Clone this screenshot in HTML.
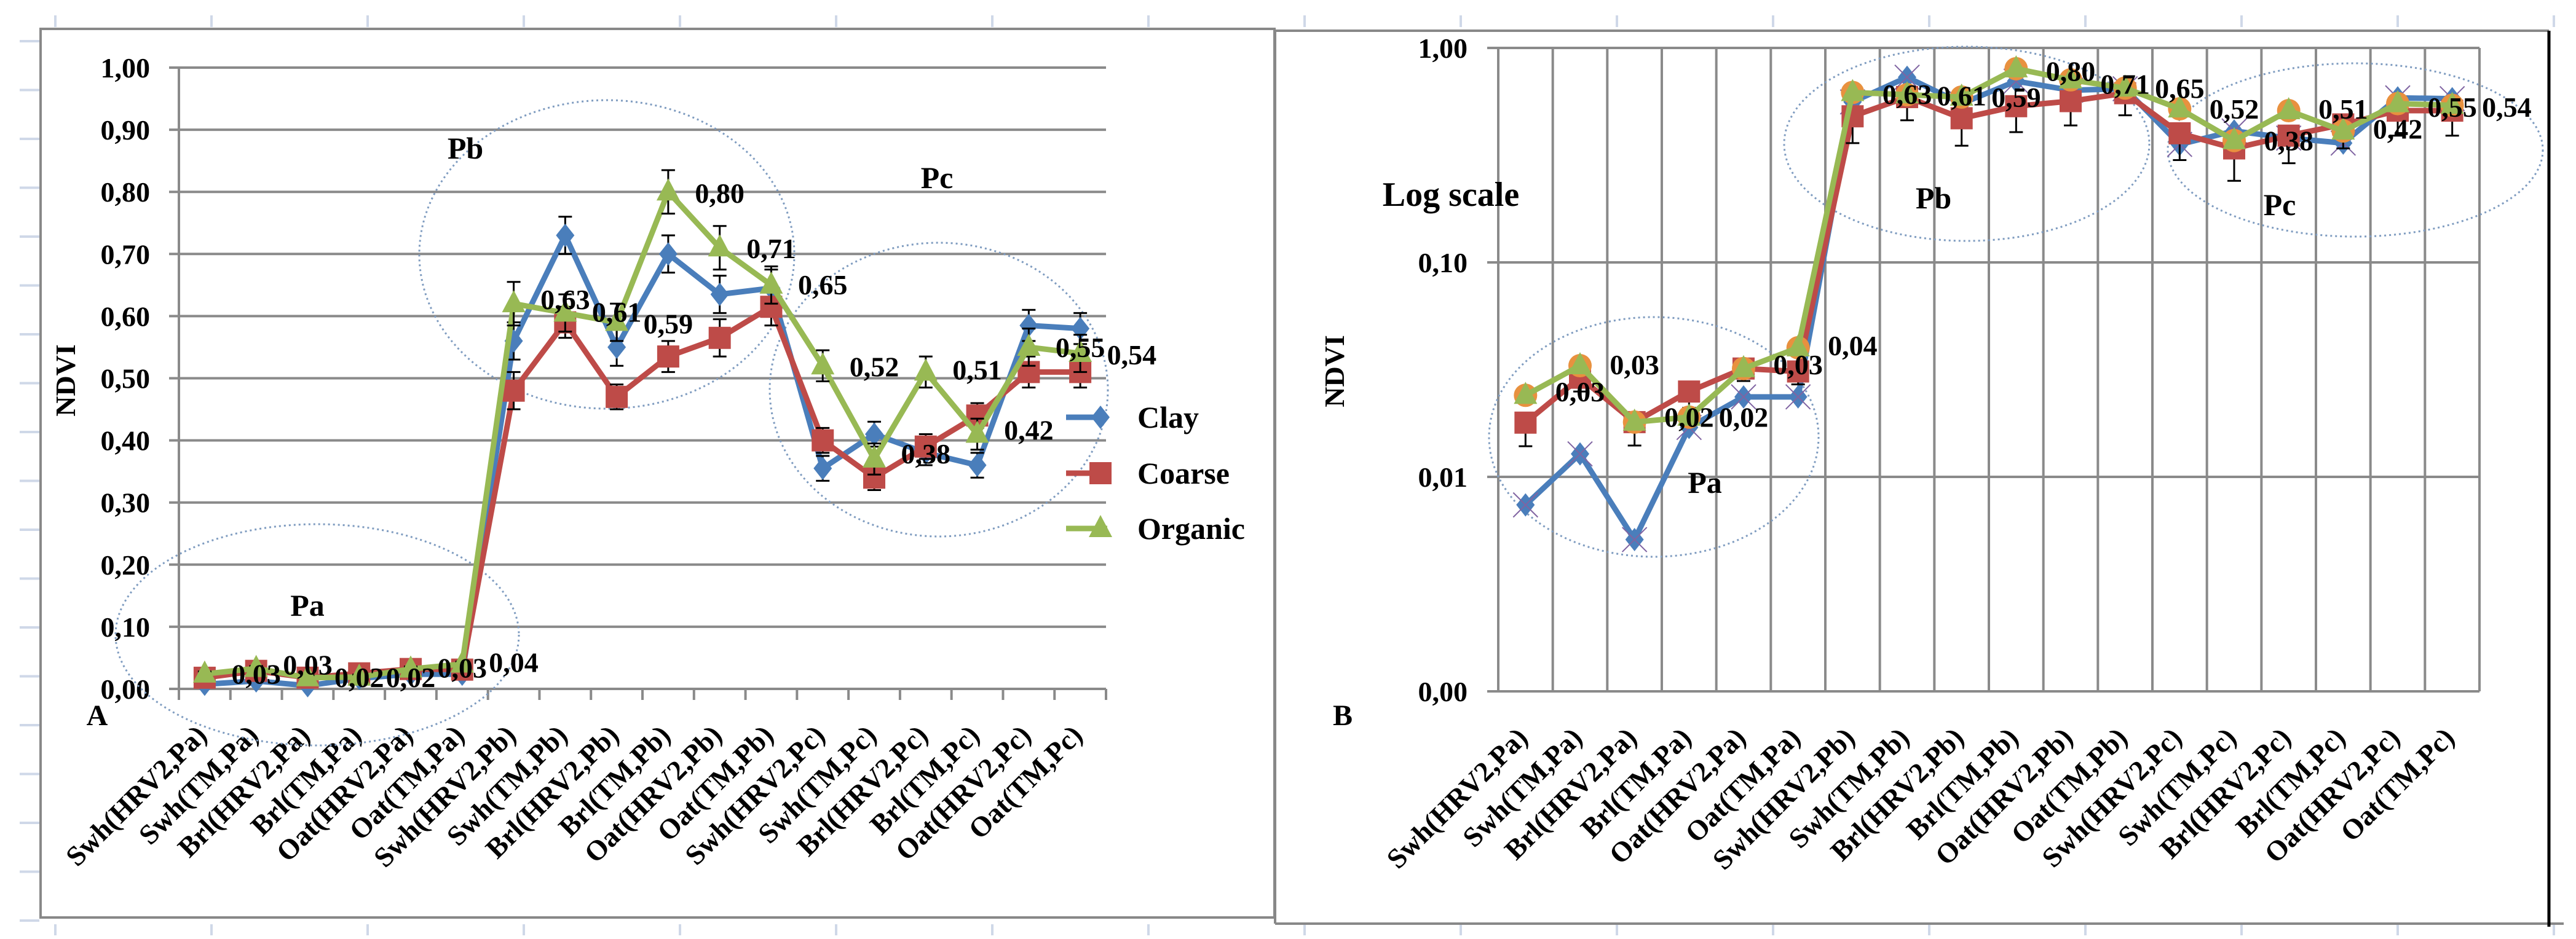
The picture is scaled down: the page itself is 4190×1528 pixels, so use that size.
<!DOCTYPE html>
<html><head><meta charset="utf-8"><style>
html,body{margin:0;padding:0;background:#fff;}
svg{display:block;}
text{font-family:"Liberation Serif",serif;font-weight:bold;}
</style></head><body>
<svg id="c" width="4190" height="1528" viewBox="0 0 4190 1528" xmlns="http://www.w3.org/2000/svg"></svg>
<script>
const categories=["Swh(HRV2,Pa)","Swh(TM,Pa)","Brl(HRV2,Pa)","Brl(TM,Pa)","Oat(HRV2,Pa)","Oat(TM,Pa)","Swh(HRV2,Pb)","Swh(TM,Pb)","Brl(HRV2,Pb)","Brl(TM,Pb)","Oat(HRV2,Pb)","Oat(TM,Pb)","Swh(HRV2,Pc)","Swh(TM,Pc)","Brl(HRV2,Pc)","Brl(TM,Pc)","Oat(HRV2,Pc)","Oat(TM,Pc)"];
const clay=[0.0074,0.0128,0.0051,0.017,0.0236,0.0236,0.56,0.73,0.55,0.70,0.635,0.645,0.355,0.41,0.38,0.36,0.585,0.58];
const coarse=[0.0179,0.029,0.018,0.025,0.032,0.031,0.48,0.59,0.47,0.535,0.565,0.615,0.40,0.34,0.39,0.44,0.51,0.51];
const organic=[0.024,0.033,0.018,0.019,0.032,0.040,0.62,0.605,0.59,0.80,0.71,0.65,0.52,0.37,0.51,0.41,0.55,0.54];
const errClay=[0.003,0.003,0.003,0.003,0.003,0.003,0.03,0.03,0.03,0.03,0.03,0.03,0.02,0.02,0.02,0.02,0.025,0.025];
const errCoarse=[0.004,0.004,0.004,0.004,0.004,0.004,0.03,0.025,0.02,0.025,0.03,0.03,0.02,0.02,0.02,0.02,0.025,0.025];
const errOrganic=[0.004,0.004,0.004,0.004,0.004,0.004,0.035,0.03,0.03,0.035,0.035,0.03,0.025,0.025,0.025,0.025,0.03,0.03];
const errCoarseLog=[0.004,0.004,0.004,0.004,0.004,0.004,0.12,0.13,0.12,0.13,0.13,0.13,0.1,0.1,0.1,0.1,0.12,0.12];
const labelTexts=["0,03","0,03","0,02","0,02","0,03","0,04","0,63","0,61","0,59","0,80","0,71","0,65","0,52","0,38","0,51","0,42","0,55","0,54"];
const labelValsLin=[0.024,0.039,0.019,0.019,0.034,0.043,0.627,0.607,0.588,0.798,0.709,0.651,0.519,0.379,0.514,0.417,0.55,0.538];
const labelValsLog=[0.025,0.0335,0.019,0.019,0.0335,0.041,0.61,0.60,0.59,0.78,0.68,0.65,0.52,0.37,0.52,0.42,0.53,0.53];
const linTicks=[0,0.1,0.2,0.3,0.4,0.5,0.6,0.7,0.8,0.9,1.0];
const linTickLabels=["0,00","0,10","0,20","0,30","0,40","0,50","0,60","0,70","0,80","0,90","1,00"];
const logTicks=[0.001,0.01,0.1,1];
const logTickLabels=["0,00","0,01","0,10","1,00"];

const NS="http://www.w3.org/2000/svg";
const svg=document.getElementById('c');
function mk(tag,attrs,parent){const e=document.createElementNS(NS,tag);for(const k in attrs)e.setAttribute(k,attrs[k]);(parent||svg).appendChild(e);return e;}
const C={clay:"#4a7ebb",coarse:"#be4b48",organic:"#98b954"};
const n=categories.length;
const L={x0:291,x1:1799,y0:1121,y1:110};
const R={x0:2437,x1:4033,y0:1125,y1:78};
const xL=i=>L.x0+(i+0.5)*(L.x1-L.x0)/n;
const yL=v=>L.y0-(v)*(L.y0-L.y1);
const xR=i=>R.x0+(i+0.5)*(R.x1-R.x0)/n;
const yR=v=>R.y1-Math.log10(v)*(R.y0-R.y1)/3;
const stepL=(L.x1-L.x0)/n, stepR=(R.x1-R.x0)/n;

for(let k=0;k<17;k++){const x=90+254*k;
 let t=mk('line',{x1:x,y1:25,x2:x,y2:44,stroke:"#cfd8e8","stroke-width":4});
 
 let b=mk('line',{x1:x,y1:1504,x2:x,y2:1522,stroke:"#cfd8e8","stroke-width":4});
 }
for(let k=0;k<19;k++){const y=67+79.5*k;
 let t=mk('line',{x1:32,y1:y,x2:64,y2:y,stroke:"#cfd8e8","stroke-width":4});
 }

let f1=mk('rect',{x:66,y:47,width:2007,height:1446,fill:"none",stroke:"#888","stroke-width":4});

let f2=mk('path',{d:"M2074 1503 V50 H4146 M2074 1503 H4170",fill:"none",stroke:"#888","stroke-width":4});

let f3=mk('line',{x1:4146,y1:50,x2:4146,y2:1508,stroke:"#000","stroke-width":5});


function text(x,y,s,size,name,extra){const t=mk('text',Object.assign({x:x,y:y,"font-size":size,"font-family":"Liberation Serif, serif","font-weight":"bold",fill:"#000"},extra||{}));t.textContent=s;
 return t;}

// ===== Panel A =====
linTicks.forEach((v,k)=>{const y=yL(v);
 let g=mk('line',{x1:275,y1:y,x2:L.x1,y2:y,stroke:"#8a8a8a","stroke-width":4});
 
 text(244,y+16,linTickLabels[k],46,'a-y-tick-label',{"text-anchor":"end"});});
let ya=mk('line',{x1:L.x0,y1:L.y1,x2:L.x0,y2:L.y0,stroke:"#8a8a8a","stroke-width":4});

for(let i=0;i<=n;i++){const x=L.x0+i*stepL;
 let t=mk('line',{x1:x,y1:L.y0,x2:x,y2:L.y0+18,stroke:"#8a8a8a","stroke-width":4});
 }
categories.forEach((c,i)=>{text(xL(i)+6,L.y0+78,c,46,'a-x-tick-label',{"text-anchor":"end",transform:`rotate(-45 ${xL(i)+6} ${L.y0+78})`});});
text(122,619,"NDVI",46,'a-y-axis-title',{"text-anchor":"middle",transform:"rotate(-90 122 619)"});
text(158,1180,"A",48,'panel-a-letter',{"text-anchor":"middle","font-family":"Liberation Sans, sans-serif","font-weight":"normal"});
[[516,1033,328,180],[987,414,305,251],[1527,634,275,239]].forEach(e=>{
 let el=mk('ellipse',{cx:e[0],cy:e[1],rx:e[2],ry:e[3],fill:"none",stroke:"#7f9cc0","stroke-width":3,"stroke-dasharray":"3 5"});
 });
text(500,1002,"Pa",50,'a-group-label-pa',{"text-anchor":"middle"});
text(757,258,"Pb",50,'a-group-label-pb',{"text-anchor":"middle"});
text(1524,306,"Pc",50,'a-group-label-pc',{"text-anchor":"middle"});

function marker(kind,x,y,col,name){let m;
 if(kind==='d')m=mk('path',{d:`M${x} ${y-19}L${x+15} ${y}L${x} ${y+19}L${x-15} ${y}Z`,fill:col});
 else if(kind==='s')m=mk('rect',{x:x-18,y:y-18,width:36,height:36,fill:col});
 else m=mk('path',{d:`M${x} ${y-22}L${x+19} ${y+14}L${x-19} ${y+14}Z`,fill:col});
 return m;}
function series(vals,errs,xf,yf,col,kind,name,both){
 let d=vals.map((v,i)=>(i?'L':'M')+xf(i)+' '+yf(v)).join(' ');
 let p=mk('path',{d:d,fill:"none",stroke:col,"stroke-width":9,"stroke-linejoin":"round"});
 
 vals.forEach((v,i)=>{const x=xf(i);
  if(errs){const lo=yf(Math.max(v-errs[i],0.0011)),hi=both?yf(v+errs[i]):yf(v);
   let e=mk('path',{d:`M${x} ${hi}V${lo}M${x-11} ${lo}H${x+11}`+(both?`M${x-11} ${hi}H${x+11}`:''),stroke:"#000","stroke-width":3,fill:"none"});
   }
  marker(kind,x,yf(v),col,name+'-marker');});}
series(clay,errClay,xL,yL,C.clay,'d','a-clay',true);
series(coarse,errCoarse,xL,yL,C.coarse,'s','a-coarse',true);
series(organic,errOrganic,xL,yL,C.organic,'t','a-organic',true);
labelTexts.forEach((s,i)=>text(xL(i)+stepL*1.0,yL(labelValsLin[i])+16,s,46,'a-data-label',{"text-anchor":"middle"}));
[["Clay",C.clay,'d',679],["Coarse",C.coarse,'s',770],["Organic",C.organic,'t',860]].forEach(l=>{
 let ln=mk('line',{x1:1734,y1:l[3],x2:1801,y2:l[3],stroke:l[1],"stroke-width":9});
 
 marker(l[2],1790,l[3],l[1],'legend-marker-'+l[0].toLowerCase());
 text(1850,l[3]+17,l[0],50,'legend-entry-'+l[0].toLowerCase(),{});});

// ===== Panel B =====
logTicks.forEach((v,k)=>{const y=yR(v);
 let g=mk('line',{x1:2419,y1:y,x2:R.x1,y2:y,stroke:"#8a8a8a","stroke-width":4});
 
 text(2387,y+16,logTickLabels[k],46,'b-y-tick-label',{"text-anchor":"end"});});
for(let i=0;i<=n;i++){const x=R.x0+i*stepR;
 let g=mk('line',{x1:x,y1:R.y1,x2:x,y2:R.y0,stroke:"#8a8a8a","stroke-width":4});
 }
categories.forEach((c,i)=>{text(xR(i)+6,R.y0+78,c,46,'b-x-tick-label',{"text-anchor":"end",transform:`rotate(-45 ${xR(i)+6} ${R.y0+78})`});});
text(2360,335,"Log scale",56,'b-scale-note',{"text-anchor":"middle"});
text(2186,604,"NDVI",46,'b-y-axis-title',{"text-anchor":"middle",transform:"rotate(-90 2186 604)"});
text(2184,1180,"B",48,'panel-b-letter',{"text-anchor":"middle","font-family":"Liberation Sans, sans-serif","font-weight":"normal"});
[[2690,711,268,195],[3199,234,297,158],[3831,244,305,141]].forEach(e=>{
 let el=mk('ellipse',{cx:e[0],cy:e[1],rx:e[2],ry:e[3],fill:"none",stroke:"#7f9cc0","stroke-width":3,"stroke-dasharray":"3 5"});
 });
text(2773,802,"Pa",50,'b-group-label-pa',{"text-anchor":"middle"});
text(3145,339,"Pb",50,'b-group-label-pb',{"text-anchor":"middle"});
text(3708,350,"Pc",50,'b-group-label-pc',{"text-anchor":"middle"});
series(clay,null,xR,yR,C.clay,'d','b-clay',false);
clay.forEach((v,i)=>{const x=xR(i),y=yR(v);
 let xm=mk('path',{d:`M${x-20} ${y-20}L${x+20} ${y+20}M${x+20} ${y-20}L${x-20} ${y+20}`,stroke:"#8064a2","stroke-width":2});
 });
series(coarse,errCoarseLog,xR,yR,C.coarse,'s','b-coarse',false);
organic.forEach((v,i)=>{let c=mk('circle',{cx:xR(i),cy:yR(v),r:19,fill:"#e8913f"});
 });
series(organic,null,xR,yR,C.organic,'t','b-organic',false);
labelTexts.forEach((s,i)=>text(xR(i)+stepR,yR(labelValsLog[i])+16,s,46,'b-data-label',{"text-anchor":"middle"}));
</script>
</body></html>
